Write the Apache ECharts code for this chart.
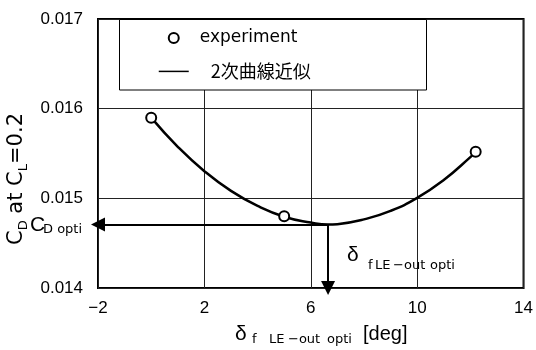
<!DOCTYPE html>
<html><head><meta charset="utf-8">
<script src="https://cdn.jsdelivr.net/npm/echarts@6/dist/echarts.min.js"></script>
<style>html,body{margin:0;padding:0;background:#fff}#c{width:536px;height:350px}</style>
</head><body><div id="c"></div>
<script>
// axis ranges / ticks
const xTickMin = -2, xTickMax = 14, xTickStep = 4;
const yTickMin = 0.014, yTickMax = 0.017, yTickStep = 0.001;
// experiment points
const expX = [0, 5, 12.2];
const expY = [0.0159, 0.0148, 0.01552];
// quadratic approximation curve
const fitX = [0, 1, 2, 3, 4, 5, 6, 6.65, 7, 8, 9, 10, 11, 12, 12.2];
const fitY = [0.0159, 0.015575, 0.015303, 0.015083, 0.014915, 0.014795, 0.01473, 0.014707, 0.014712, 0.014765, 0.01486, 0.015005, 0.015205, 0.01546, 0.01552];
// optimum
const optX = 6.65, optY = 0.014707;
const seriesNames = ['experiment', '2次曲線近似'];

const zip = (a, b) => a.map((v, i) => [v, b[i]]);
const chart = echarts.init(document.getElementById('c'), null, {renderer: 'canvas'});
const SANS = 'Liberation Sans, Arial, sans-serif';
const DJ = 'DejaVu Sans, sans-serif';

chart.setOption({
  animation: false,
  backgroundColor: '#fff',
  grid: {left: 98, right: 8, top: 19, bottom: 62, show: true, borderColor: '#000', borderWidth: 2, backgroundColor: 'transparent'},
  xAxis: {
    type: 'value', min: xTickMin, max: xTickMax, interval: xTickStep,
    axisLine: {show: false}, axisTick: {show: false},
    splitLine: {show: true, lineStyle: {color: '#222', width: 1}},
    axisLabel: {color: '#000', fontSize: 17, fontFamily: SANS, margin: 12,
      formatter: v => String(v).replace('-', '\u2212')}
  },
  yAxis: {
    type: 'value', min: yTickMin, max: yTickMax, interval: yTickStep,
    axisLine: {show: false}, axisTick: {show: false},
    splitLine: {show: true, lineStyle: {color: '#222', width: 1}},
    axisLabel: {color: '#000', fontSize: 17, fontFamily: SANS, margin: 15,
      formatter: v => v.toFixed(3)}
  },
  legend: {
    data: [{name: seriesNames[0]}, {name: seriesNames[1], itemStyle: {opacity: 0, borderWidth: 0}}],
    orient: 'vertical', left: 158, top: 28, padding: 0,
    itemWidth: 30, itemHeight: 10, itemGap: 13.4, z: 10,
    lineStyle: {width: 1.5, color: '#000', opacity: 1},
    formatter: n => n === seriesNames[0] ? '{a|' + n + '}' : '{b|' + n + '}',
    textStyle: {color: '#000', fontSize: 17, lineHeight: 20,
      rich: {
        a: {fontFamily: DJ, fontSize: 17, color: '#000', padding: [0, 0, 0, 6]},
        b: {fontFamily: 'Noto Sans CJK JP', fontSize: 18, color: '#000', padding: [0, 0, 0, 17]}
      }}
  },
  series: [
    {
      name: seriesNames[1], type: 'line', data: zip(fitX, fitY), smooth: true,
      showSymbol: false, symbol: 'none', silent: true,
      lineStyle: {color: '#000', width: 2.5}, itemStyle: {color: '#000'}, z: 3
    },
    {
      name: seriesNames[0], type: 'scatter', data: zip(expX, expY),
      symbol: 'circle', symbolSize: 10, silent: true,
      itemStyle: {color: '#fff', borderColor: '#000', borderWidth: 2, opacity: 1}, z: 5
    },
    {
      name: 'opt', type: 'line', data: [], silent: true, z: 4,
      markLine: {
        silent: true, animation: false,
        symbol: ['none', 'triangle'], symbolSize: 14,
        label: {show: false}, emphasis: {disabled: true},
        itemStyle: {color: '#000'},
        lineStyle: {color: '#000', width: 2, type: 'solid'},
        data: [
          [{coord: [optX, optY]}, {coord: [xTickMin, optY]}],
          [{coord: [optX, optY]}, {coord: [optX, yTickMin]}]
        ]
      }
    }
  ]
});

const g = [];
function txt(str, x, yBase, size, font, extra) {
  g.push(Object.assign({type: 'text', z: 20, x: x, y: yBase - 0.35 * size,
    style: {text: str, fontSize: size, fontFamily: font, fill: '#000', align: 'left', verticalAlign: 'middle'}}, extra || {}));
}
// legend frame
g.push({type: 'rect', z: 3, shape: {x: 119.5, y: 19.5, width: 307, height: 70.5},
  style: {fill: '#fff', stroke: '#000', lineWidth: 1}});
// y-axis title (rotated, rich text)
g.push({type: 'text', z: 20, x: 18, y: 179, rotation: Math.PI / 2,
  style: {text: '{m|C}{s|D}{m| at C}{s|L}{m|=0.2}', align: 'center', verticalAlign: 'middle',
    rich: {m: {fontSize: 21, fontFamily: DJ, fill: '#000', verticalAlign: 'bottom', padding: [0, 0, 3, 0]},
           s: {fontSize: 13, fontFamily: DJ, fill: '#000', verticalAlign: 'bottom'}}}});
// C_D opti label
txt('C', 30, 233, 21, SANS);
txt('D opti', 43, 234, 13, DJ);
// x-axis title
txt('\u03B4', 235, 342, 21, SANS);
txt('f', 252, 344, 13, DJ);
txt('LE', 269, 344, 13, DJ);
txt('\u2212out', 288, 344, 13, DJ);
txt('opti', 327, 344, 13, DJ);
txt('[deg]', 363, 341, 20, SANS);
// annotation near vertical arrow
const p = chart.convertToPixel({gridIndex: 0}, [optX, optY]);
const ax = p[0];
txt('\u03B4', ax + 19, 263, 21, SANS);
txt('f', ax + 40, 270, 13, DJ);
txt('LE', ax + 47, 270, 13, DJ);
txt('\u2212out', ax + 65, 270, 13, DJ);
txt('opti', ax + 102, 270, 13, DJ);
chart.setOption({graphic: g});
</script></body></html>
